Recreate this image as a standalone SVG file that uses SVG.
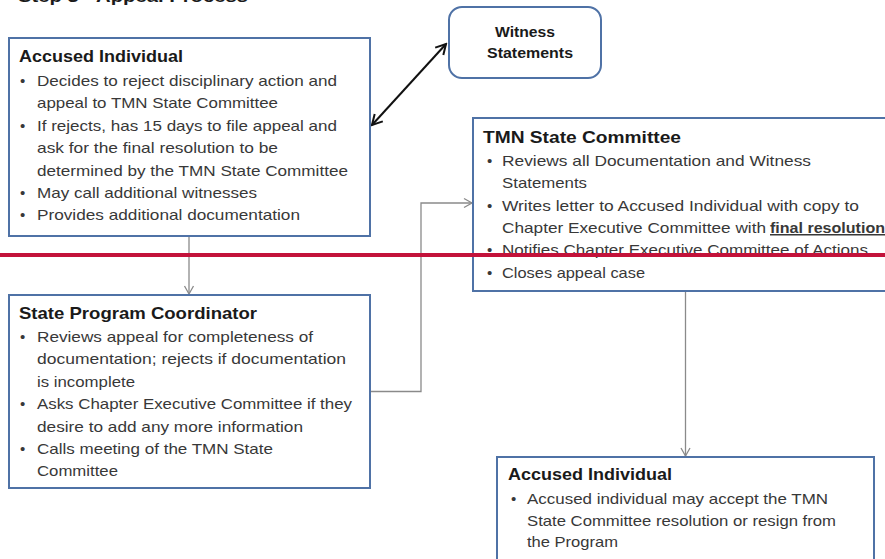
<svg xmlns="http://www.w3.org/2000/svg" width="885" height="559" viewBox="0 0 885 559">
<defs>
<style>
.box{fill:#fff;stroke:#4f72a6;stroke-width:2}
.t{font-family:"Liberation Sans",Arial,sans-serif;font-size:17px;font-weight:bold;fill:#1a1a1a}
.b{font-family:"Liberation Sans",Arial,sans-serif;font-size:15px;fill:#383838}
.w{font-family:"Liberation Sans",Arial,sans-serif;font-size:15px;font-weight:bold;fill:#1a1a1a}
.conn{fill:none;stroke:#8a8a8a;stroke-width:1.3}
.dbl{fill:none;stroke:#111;stroke-width:2}
</style>
<marker id="ag" markerUnits="userSpaceOnUse" markerWidth="12" markerHeight="12" refX="10" refY="6" orient="auto">
<path d="M2,1.5 L10,6 L2,10.5" fill="none" stroke="#8a8a8a" stroke-width="1.3"/>
</marker>
<marker id="ab" markerUnits="userSpaceOnUse" markerWidth="14" markerHeight="14" refX="12" refY="7" orient="auto-start-reverse">
<path d="M2,1.5 L12,7 L2,12.5" fill="none" stroke="#111" stroke-width="2"/>
</marker>
</defs>
<rect width="885" height="559" fill="#fff"/>
<text class="t" x="18" y="2" textLength="230" lengthAdjust="spacingAndGlyphs">Step 3 - Appeal Process</text>

<g id="connectors">
<line class="dbl" x1="372" y1="125" x2="446" y2="44" marker-start="url(#ab)" marker-end="url(#ab)"/>
<line class="conn" x1="189" y1="236" x2="189" y2="294" marker-end="url(#ag)"/>
<polyline class="conn" points="370,391.5 421,391.5 421,203 472,203" marker-end="url(#ag)"/>
<line class="conn" x1="685.5" y1="291" x2="685.5" y2="456" marker-end="url(#ag)"/>
</g>

<g id="witness">
<rect class="box" x="449" y="7" width="152" height="71" rx="13"/>
<text class="w" x="525" y="37" text-anchor="middle" textLength="60" lengthAdjust="spacingAndGlyphs">Witness</text>
<text class="w" x="530" y="58" text-anchor="middle" textLength="86" lengthAdjust="spacingAndGlyphs">Statements</text>
</g>

<g id="accused1">
<rect class="box" x="9" y="38" width="361" height="198"/>
<text class="t" x="19" y="62" textLength="164" lengthAdjust="spacingAndGlyphs">Accused Individual</text>
<g class="b">
<text x="20" y="86">•</text><text x="37" y="86" textLength="300" lengthAdjust="spacingAndGlyphs">Decides to reject disciplinary action and</text>
<text x="37" y="108" textLength="241" lengthAdjust="spacingAndGlyphs">appeal to TMN State Committee</text>
<text x="20" y="131">•</text><text x="37" y="131" textLength="300" lengthAdjust="spacingAndGlyphs">If rejects, has 15 days to file appeal  and</text>
<text x="37" y="153" textLength="241" lengthAdjust="spacingAndGlyphs">ask for the final resolution to be</text>
<text x="37" y="176" textLength="311" lengthAdjust="spacingAndGlyphs">determined  by the TMN State Committee</text>
<text x="20" y="198">•</text><text x="37" y="198" textLength="220" lengthAdjust="spacingAndGlyphs">May call additional witnesses</text>
<text x="20" y="220">•</text><text x="37" y="220" textLength="263" lengthAdjust="spacingAndGlyphs">Provides additional documentation</text>
</g>
</g>

<g id="tmn">
<rect class="box" x="473" y="118" width="420" height="173"/>
<text class="t" x="483" y="143" textLength="198" lengthAdjust="spacingAndGlyphs">TMN State Committee</text>
<g class="b">
<text x="487" y="166">•</text><text x="502" y="166" textLength="309" lengthAdjust="spacingAndGlyphs">Reviews  all  Documentation and Witness</text>
<text x="502" y="188" textLength="85" lengthAdjust="spacingAndGlyphs">Statements</text>
<text x="487" y="211">•</text><text x="502" y="211" textLength="357" lengthAdjust="spacingAndGlyphs">Writes letter to Accused Individual with copy to</text>
<text x="502" y="233" textLength="264" lengthAdjust="spacingAndGlyphs">Chapter Executive Committee with</text>
<text x="770" y="233" textLength="115" lengthAdjust="spacingAndGlyphs" font-weight="bold" text-decoration="underline">final resolution</text>
<text x="487" y="255">•</text><text x="502" y="255" textLength="366" lengthAdjust="spacingAndGlyphs">Notifies Chapter Executive Committee  of Actions</text>
<text x="487" y="278">•</text><text x="502" y="278" textLength="143" lengthAdjust="spacingAndGlyphs">Closes  appeal case</text>
</g>
</g>

<g id="coordinator">
<rect class="box" x="9" y="295" width="361" height="193"/>
<text class="t" x="19" y="319" textLength="238" lengthAdjust="spacingAndGlyphs">State Program Coordinator</text>
<g class="b">
<text x="20" y="342">•</text><text x="37" y="342" textLength="276" lengthAdjust="spacingAndGlyphs">Reviews  appeal for completeness  of</text>
<text x="37" y="364" textLength="309" lengthAdjust="spacingAndGlyphs">documentation; rejects if documentation</text>
<text x="37" y="387" textLength="98" lengthAdjust="spacingAndGlyphs">is incomplete</text>
<text x="20" y="409">•</text><text x="37" y="409" textLength="315" lengthAdjust="spacingAndGlyphs">Asks Chapter Executive  Committee  if they</text>
<text x="37" y="432" textLength="266" lengthAdjust="spacingAndGlyphs">desire to add any more information</text>
<text x="20" y="454">•</text><text x="37" y="454" textLength="236" lengthAdjust="spacingAndGlyphs">Calls meeting of the TMN State</text>
<text x="37" y="476" textLength="81" lengthAdjust="spacingAndGlyphs">Committee</text>
</g>
</g>

<g id="accused2">
<rect class="box" x="497" y="457" width="377" height="120"/>
<text class="t" x="508" y="480" textLength="164" lengthAdjust="spacingAndGlyphs">Accused Individual</text>
<g class="b">
<text x="511" y="504">•</text><text x="527" y="504" textLength="301" lengthAdjust="spacingAndGlyphs">Accused individual  may accept the TMN</text>
<text x="527" y="526" textLength="309" lengthAdjust="spacingAndGlyphs">State Committee  resolution or resign from</text>
<text x="527" y="547" textLength="91" lengthAdjust="spacingAndGlyphs">the Program</text>
</g>
</g>

<line x1="0" y1="255" x2="885" y2="255" stroke="#c3123a" stroke-width="4"/>
</svg>
